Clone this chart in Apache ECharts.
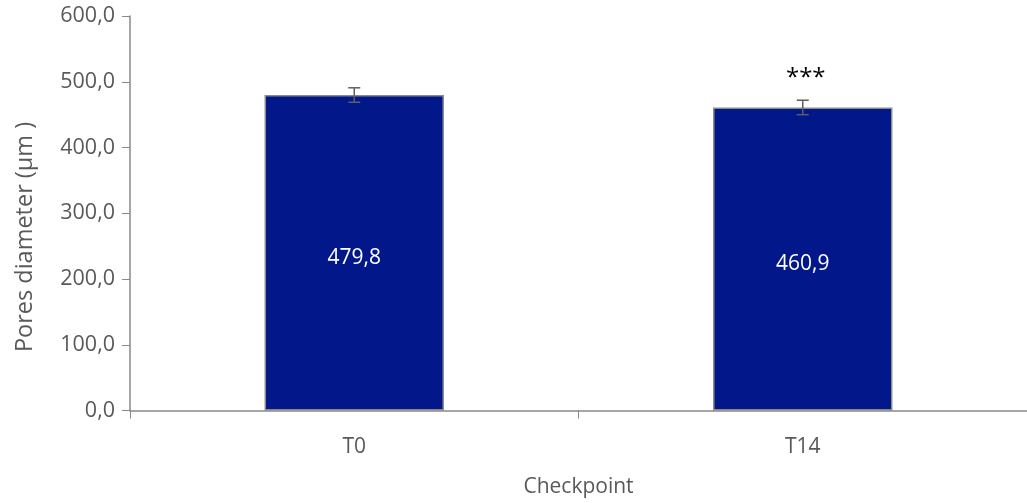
<!DOCTYPE html>
<html>
<head>
<meta charset="utf-8">
<script src="https://cdn.jsdelivr.net/npm/echarts@6/dist/echarts.min.js"></script>
<style>
  html, body { margin: 0; padding: 0; background: #fff; }
  #chart { width: 1027px; height: 503px; }
</style>
</head>
<body>
<div id="chart"></div>
<script>
// Mean pore diameter per checkpoint, with error range and significance marks
const categories = ['T0', 'T14'];
const meanValues = [479.8, 460.9];
const errorValues = [11, 11];
const significance = ['', '***'];
const yTicks = [0, 100, 200, 300, 400, 500, 600];
const yTitle = 'Pores diameter (µm )';
const xTitle = 'Checkpoint';

const fmt = v => v.toFixed(1).replace('.', ',');
const FONT = '"Open Sans", Lato, sans-serif';
const GREY = '#898989';
const TEXT = '#595959';

const chart = echarts.init(document.getElementById('chart'));

chart.setOption({
  animation: false,
  grid: { left: 130, top: 16, width: 904, height: 396, containLabel: false },
  graphic: [
    {
      type: 'text',
      x: 25,
      y: 237,
      rotation: Math.PI / 2,
      style: {
        text: yTitle,
        align: 'center',
        verticalAlign: 'middle',
        fill: TEXT,
        fontSize: 23.5,
        fontFamily: FONT
      }
    }
  ],
  xAxis: {
    type: 'category',
    data: categories,
    name: xTitle,
    nameLocation: 'middle',
    nameGap: 77,
    nameTextStyle: { color: TEXT, fontSize: 21, fontFamily: FONT, verticalAlign: 'middle' },
    axisLine: { lineStyle: { color: GREY, width: 1.5 } },
    axisTick: { show: true, length: 8, lineStyle: { color: GREY } },
    axisLabel: { color: TEXT, fontSize: 21, fontFamily: FONT, margin: 26 }
  },
  yAxis: {
    type: 'value',
    min: yTicks[0],
    max: yTicks[yTicks.length - 1],
    interval: 100,
    axisLine: { show: true, lineStyle: { color: GREY, width: 1.5 } },
    axisTick: { show: true, length: 8, lineStyle: { color: GREY } },
    splitLine: { show: false },
    axisLabel: { color: TEXT, fontSize: 21.5, fontFamily: FONT, margin: 15, formatter: fmt }
  },
  series: [
    {
      type: 'bar',
      data: meanValues,
      barWidth: '40%',
      itemStyle: { color: '#021789', borderColor: '#8a8a8a', borderWidth: 1.5 },
      label: {
        show: true,
        position: 'inside',
        color: '#ffffff',
        fontSize: 21,
        fontFamily: FONT,
        offset: [0, 5],
        formatter: p => fmt(p.value)
      }
    },
    {
      type: 'custom',
      data: meanValues.map((v, i) => [i, v, errorValues[i]]),
      z: 10,
      renderItem: (params, api) => {
        const i = api.value(0);
        const v = api.value(1);
        const e = api.value(2);
        const sig = significance[params.dataIndex];
        const top = api.coord([i, v + e]);
        const bot = api.coord([i, v - e]);
        const hw = 6;
        const style = { stroke: '#5f5f5f', lineWidth: 1.5 };
        const children = [
          { type: 'line', shape: { x1: top[0], y1: top[1], x2: bot[0], y2: bot[1] }, style },
          { type: 'line', shape: { x1: top[0] - hw, y1: top[1], x2: top[0] + hw, y2: top[1] }, style },
          { type: 'line', shape: { x1: bot[0] - hw, y1: bot[1], x2: bot[0] + hw, y2: bot[1] }, style }
        ];
        if (sig) {
          children.push({
            type: 'text',
            style: {
              x: top[0] + 3, y: top[1] - 22, text: sig,
              align: 'center', verticalAlign: 'middle',
              fill: '#000', fontSize: 24, fontFamily: FONT
            }
          });
        }
        return { type: 'group', children };
      }
    }
  ]
});
</script>
</body>
</html>
